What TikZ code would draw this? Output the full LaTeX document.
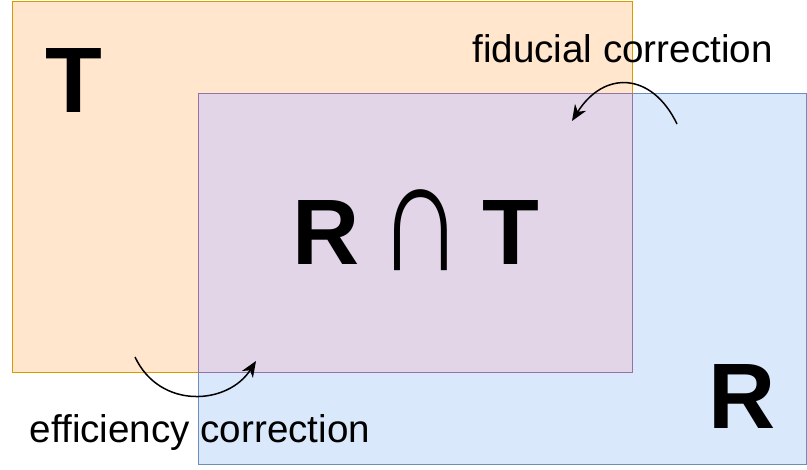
\documentclass[tikz,border=0pt]{standalone}
\usepackage{fontspec}
\setmainfont{Liberation Sans}
\usetikzlibrary{arrows.meta}
\definecolor{tfill}{HTML}{FFE6CC}
\definecolor{tdraw}{HTML}{D79B00}
\definecolor{rfill}{HTML}{DAE8FC}
\definecolor{rdraw}{HTML}{6C8EBF}
\definecolor{pfill}{HTML}{E1D5E7}
\definecolor{pdraw}{HTML}{9673A6}
\newcommand{\bigcapsym}{\raisebox{-6pt}{\scalebox{1}[1.36]{\mdseries\fontsize{118}{118}\selectfont ∩}}}
\begin{document}
\begin{tikzpicture}[x=1pt,y=-1pt,
  region/.style={line width=1pt},
  big/.style={font=\fontsize{93}{93}\selectfont\bfseries, inner sep=0pt, anchor=base},
  lbl/.style={font=\fontsize{38.6}{38.6}\selectfont, inner sep=0pt, anchor=base},
  curvearrow/.style={line width=1.5pt, -{Stealth[length=16pt,width=13pt,inset=5pt]}}]
\useasboundingbox (0,0) rectangle (807,470);
\draw[region, fill=tfill, draw=tdraw] (12,2) rectangle (632,373);
\draw[region, fill=rfill, draw=rdraw] (198,94) rectangle (806,465);
\draw[region, fill=pfill, draw=pdraw] (198,94) rectangle (632,373);
\node[big] (T) at (74,113) {T};
\node[big] (R) at (742,429) {R};
\node[big] (RT) at (416,265) {R\hspace{19pt}\bigcapsym\hspace{19pt}T};
\node[lbl] (fid) at (622.5,63) {fiducial correction};
\node[lbl] (eff) at (200,443) {efficiency correction};
\coordinate (fs) at (677,124);
\coordinate (fe) at (572,121);
\coordinate (es) at (135,357);
\coordinate (ee) at (256,361);
\draw[curvearrow] (fs) .. controls (652,72) and (604,70) .. (fe);
\draw[curvearrow] (es) .. controls (160,410) and (228,405) .. (ee);
\end{tikzpicture}
\end{document}
